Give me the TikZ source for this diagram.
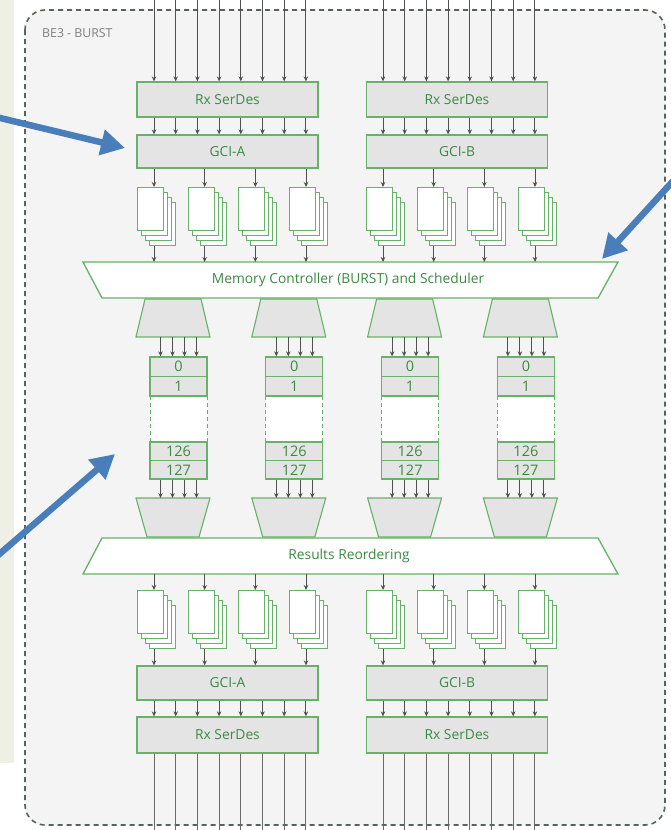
\documentclass[tikz,border=0pt]{standalone}
\usepackage{fontspec}
\setmainfont{Open Sans}
\usetikzlibrary{arrows.meta}
\definecolor{bgc}{HTML}{F4F4F4}
\definecolor{beige}{HTML}{EEF0E5}
\definecolor{gline}{HTML}{68B168}
\definecolor{gtext}{HTML}{3B8A42}
\definecolor{gfill}{HTML}{E4E4E4}
\definecolor{dashc}{HTML}{56645A}
\definecolor{arrc}{HTML}{505050}
\definecolor{blu}{HTML}{4A7EBB}
\definecolor{titlec}{HTML}{7E7E7E}
\begin{document}
\begin{tikzpicture}[x=1pt,y=-1pt,
  box/.style={draw=gline, fill=gfill, line width=1.3pt, inner sep=0pt, font=\fontsize{13.8}{15}\selectfont, text=gtext},
  card/.style={draw=gline, fill=white, line width=1.1pt, inner sep=0pt, minimum width=26pt, minimum height=43pt, anchor=north west},
  sig/.style={draw=arrc, line width=0.9pt, -{Stealth[length=5pt,width=4.5pt]}},
  wire/.style={draw=arrc!85, line width=0.9pt},
  bluearrow/.style={draw=blu, line width=6.5pt, -{Triangle[length=24pt,width=25pt]}},
  cell/.style={box, minimum width=57pt, font=\fontsize{14.5}{15}\selectfont},
  trap/.style={draw=gline, fill=white, line width=1.3pt},
  muxstyle/.style={draw=gline, fill=gfill, line width=1.1pt},
  lbl/.style={text=gtext, font=\fontsize{13.8}{15}\selectfont, inner sep=0pt},
]
\useasboundingbox (0,0) rectangle (670,830);
\fill[white] (0,0) rectangle (670,830);
\fill[beige] (0,0) rectangle (14,763);
\draw[draw=dashc, fill=bgc, line width=1.6pt, dash pattern=on 5pt off 4pt, rounded corners=20pt] (25,10) rectangle (665,825);
\node[anchor=west, text=titlec, font=\fontsize{12.3}{14}\selectfont, inner sep=0pt] (title) at (42,33) {BE3 - BURST};

% ---------- top SerDes / GCI ----------
\node[box, minimum width=181pt, minimum height=35pt] (rxA) at (227.5,99.5) {Rx SerDes};
\node[box, minimum width=181pt, minimum height=33pt] (gciA) at (227.5,151.5) {GCI-A};
\node[box, minimum width=181pt, minimum height=35pt] (rxB) at (457,99.5) {Rx SerDes};
\node[box, minimum width=181pt, minimum height=33pt] (gciB) at (457,151.5) {GCI-B};

% ---------- bottom SerDes / GCI ----------
\node[box, minimum width=181pt, minimum height=34pt] (gciA2) at (227.5,683) {GCI-A};
\node[box, minimum width=181pt, minimum height=36pt] (rxA2) at (227.5,735) {Rx SerDes};
\node[box, minimum width=181pt, minimum height=34pt] (gciB2) at (457,683) {GCI-B};
\node[box, minimum width=181pt, minimum height=36pt] (rxB2) at (457,735) {Rx SerDes};

% wires for the 8 lanes
\foreach \s/\xo in {A/154, B/383} {
  \foreach \i in {0,...,7} {
    \pgfmathsetmacro{\xx}{\xo+21.7*\i}
    \coordinate (in\s\i) at (\xx,-2);
    \coordinate (out\s\i) at (\xx,832);
    \draw[sig] (in\s\i) -- (in\s\i |- rx\s.north);
    \draw[sig] (rx\s.south -| in\s\i) -- (gci\s.north -| in\s\i);
    \draw[sig] (gci\s2.south -| in\s\i) -- (rx\s2.north -| in\s\i);
    \draw[wire] (rx\s2.south -| out\s\i) -- (out\s\i);
  }
}

% ---------- memory controller and results reordering ----------
\coordinate (mcTL) at (83,262); \coordinate (mcTR) at (618,262);
\coordinate (mcBR) at (598,298); \coordinate (mcBL) at (102,298);
\draw[trap] (mcTL) -- (mcTR) -- (mcBR) -- (mcBL) -- cycle;
\node[lbl] (mc) at (348,280) {Memory Controller (BURST) and Scheduler};

\coordinate (rrTL) at (102,538); \coordinate (rrTR) at (598,538);
\coordinate (rrBR) at (618,574); \coordinate (rrBL) at (83,574);
\draw[trap] (rrTL) -- (rrTR) -- (rrBR) -- (rrBL) -- cycle;
\node[lbl] (rr) at (349,556) {Results Reordering};

% ---------- card stacks ----------
\foreach \s/\xo in {A/154, B/383} {
  \foreach \j in {0,...,3} {
    \pgfmathsetmacro{\ax}{\xo+50.67*\j}
    \pgfmathsetmacro{\lx}{\ax-17}
    \coordinate (sx\s\j) at (\ax,0);
    % top stack
    \foreach \k in {3,2,1,0} {
      \node[card] (ct\s\j\k) at ({\lx+4*\k},{187+5*\k}) {};
    }
    % bottom stack
    \foreach \k in {3,2,1,0} {
      \node[card] (cb\s\j\k) at ({\lx+4*\k},{590+5*\k}) {};
    }
    \draw[sig] (gci\s.south -| sx\s\j) -- (ct\s\j0.north -| sx\s\j);
    \draw[sig] (ct\s\j3.south -| sx\s\j) -- (mcTL -| sx\s\j);
    \draw[sig] (rrBL -| sx\s\j) -- (cb\s\j0.north -| sx\s\j);
    \draw[sig] (cb\s\j3.south -| sx\s\j) -- (gci\s2.north -| sx\s\j);
  }
}

% ---------- muxes and memory banks ----------
\foreach \m in {0,...,3} {
  \pgfmathsetmacro{\cx}{173+115.8*\m}
  \pgfmathsetmacro{\bx}{\cx+5.5}
  \draw[muxstyle] ({\cx-28},299) -- ({\cx+28},299) -- ({\cx+37},337) -- ({\cx-37},337) -- cycle;
  \coordinate (mxb\m) at (\bx,337);
  \fill[white] ({\bx-28.5},396) rectangle ({\bx+28.5},442);
  \draw[gline, line width=1pt, dash pattern=on 4pt off 3pt] ({\bx-28.5},396) -- ({\bx-28.5},442);
  \draw[gline, line width=1pt, dash pattern=on 4pt off 3pt] ({\bx+28.5},396) -- ({\bx+28.5},442);
  \node[cell, minimum height=19.5pt] (cz\m) at (\bx,366.75) {0};
  \node[cell, minimum height=19.5pt] (co\m) at (\bx,386.25) {1};
  \node[cell, minimum height=18.5pt] (cs\m) at (\bx,451.25) {126};
  \node[cell, minimum height=18.5pt] (ce\m) at (\bx,469.75) {127};
  \draw[muxstyle] ({\cx-37},498) -- ({\cx+37},498) -- ({\cx+26},537) -- ({\cx-26},537) -- cycle;
  \coordinate (mxt\m) at (\bx,498);
  \foreach \o in {-18,-6,6,18} {
    \draw[sig] ([xshift=\o pt]mxb\m) -- ([xshift=\o pt]cz\m.north);
    \draw[sig] ([xshift=\o pt]ce\m.south) -- ([xshift=\o pt]mxt\m);
  }
}

% ---------- blue call-out arrows ----------
\coordinate (b1s) at (-4,117); \coordinate (b1e) at (125,148);
\coordinate (b2s) at (674,180); \coordinate (b2e) at (602,259);
\coordinate (b3s) at (-4,557); \coordinate (b3e) at (115,454);
\draw[bluearrow] (b1s) -- (b1e);
\draw[bluearrow] (b2s) -- (b2e);
\draw[bluearrow] (b3s) -- (b3e);
\end{tikzpicture}
\end{document}
